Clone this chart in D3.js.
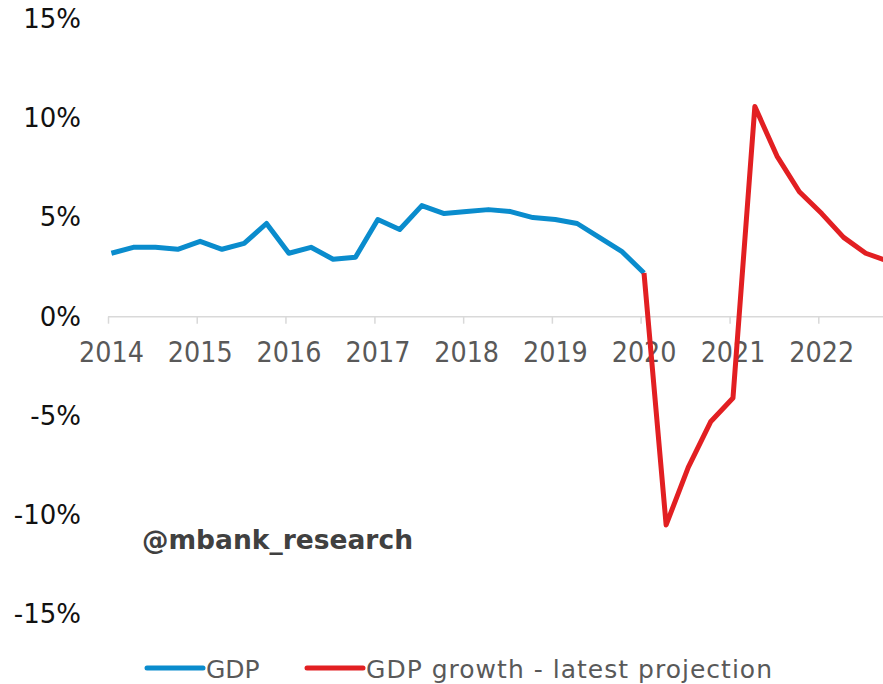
<!DOCTYPE html>
<html>
<head>
<meta charset="utf-8">
<script src="https://cdn.jsdelivr.net/npm/d3@7"></script>
<style>
  html, body { margin: 0; padding: 0; background: #fff; }
  svg { display: block; font-family: "DejaVu Sans", Verdana, sans-serif; }
</style>
</head>
<body>
<svg id="chart" width="883" height="684"></svg>
<script>
// Quarterly GDP growth (y/y, %), 2014 Q1 – 2020 Q1
const gdpQuarters = [
  "2014Q1","2014Q2","2014Q3","2014Q4",
  "2015Q1","2015Q2","2015Q3","2015Q4",
  "2016Q1","2016Q2","2016Q3","2016Q4",
  "2017Q1","2017Q2","2017Q3","2017Q4",
  "2018Q1","2018Q2","2018Q3","2018Q4",
  "2019Q1","2019Q2","2019Q3","2019Q4",
  "2020Q1"
];
const gdpValues = [
  3.2, 3.5, 3.5, 3.4,
  3.8, 3.4, 3.7, 4.7,
  3.2, 3.5, 2.9, 3.0,
  4.9, 4.4, 5.6, 5.2,
  5.3, 5.4, 5.3, 5.0,
  4.9, 4.7, 4.0, 3.3,
  2.2
];

// Latest projection, 2020 Q1 – 2022 Q4
const projQuarters = [
  "2020Q1","2020Q2","2020Q3","2020Q4",
  "2021Q1","2021Q2","2021Q3","2021Q4",
  "2022Q1","2022Q2","2022Q3","2022Q4"
];
const projValues = [
  2.2, -10.5, -7.6, -5.3,
  -4.1, 10.6, 8.1, 6.3,
  5.2, 4.0, 3.2, 2.8
];

const yearTicks = [2014, 2015, 2016, 2017, 2018, 2019, 2020, 2021, 2022];
const yTicks = [-15, -10, -5, 0, 5, 10, 15];

const seriesNames = ["GDP", "GDP growth - latest projection"];
const seriesColors = ["#0a8ccd", "#e21f22"];
const watermark = "@mbank_research";

const svg = d3.select("#chart");

// Each quarter is plotted at the middle of its first month
function quarterDate(q) {
  const year = +q.slice(0, 4);
  const qn = +q.slice(5);
  return new Date(year, (qn - 1) * 3, 15);
}

const x = d3.scaleTime()
  .domain([new Date(2014, 0, 1), new Date(2022, 0, 1)])
  .range([108, 818.3]);

const y = d3.scaleLinear()
  .domain([-15, 15])
  .range([316.7 + 15 * 19.83, 316.7 - 15 * 19.83]);

// Y axis labels
const yAxis = d3.axisLeft(y)
  .tickValues(yTicks)
  .tickSize(0)
  .tickPadding(0)
  .tickFormat(d => d + "%");

svg.append("g")
  .attr("transform", "translate(81,0)")
  .call(yAxis)
  .call(g => g.select(".domain").remove())
  .call(g => g.selectAll("text")
    .attr("fill", "#111")
    .attr("font-size", 26)
    .attr("font-family", "DejaVu Sans, Verdana, sans-serif"));

// Zero line with year ticks
const xAxis = d3.axisBottom(x)
  .tickValues(yearTicks.map(yr => new Date(yr, 0, 1)))
  .tickSize(7)
  .tickFormat(d3.timeFormat("%Y"));

const gx = svg.append("g")
  .attr("transform", `translate(0,${y(0)})`)
  .call(xAxis);

gx.select(".domain").remove();
gx.insert("line", ":first-child")
  .attr("x1", x(new Date(2014, 0, 1)))
  .attr("x2", 883)
  .attr("stroke", "#d9d9d9")
  .attr("stroke-width", 1.5);
gx.selectAll(".tick line")
  .attr("stroke", "#d9d9d9")
  .attr("stroke-width", 1.5);
gx.selectAll(".tick text")
  .attr("fill", "#595959")
  .attr("font-size", 25.5)
  .attr("y", 0)
  .attr("dy", 0)
  .attr("transform", "translate(3,45) scale(1,1.12)")
  .attr("font-family", "DejaVu Sans, Verdana, sans-serif");

// Series lines
const line = d3.line()
  .x(d => x(quarterDate(d.q)))
  .y(d => y(d.v));

const gdpData = gdpQuarters.map((q, i) => ({ q, v: gdpValues[i] }));
const projData = projQuarters.map((q, i) => ({ q, v: projValues[i] }));

svg.append("path")
  .datum(gdpData)
  .attr("d", line)
  .attr("fill", "none")
  .attr("stroke", seriesColors[0])
  .attr("stroke-width", 5)
  .attr("stroke-linejoin", "round");

svg.append("path")
  .datum(projData)
  .attr("d", line)
  .attr("fill", "none")
  .attr("stroke", seriesColors[1])
  .attr("stroke-width", 5)
  .attr("stroke-linejoin", "round");

// Watermark
svg.append("text")
  .attr("x", 142)
  .attr("y", 549)
  .attr("font-size", 26.5)
  .attr("font-weight", "bold")
  .attr("fill", "#404040")
  .text(watermark);

// Legend
const legendItems = [
  { name: seriesNames[0], color: seriesColors[0], x0: 147, len: null },
  { name: seriesNames[1], color: seriesColors[1], x0: 307, len: 406 }
];
const legend = svg.append("g");
legendItems.forEach(it => {
  legend.append("line")
    .attr("x1", it.x0).attr("x2", it.x0 + 56)
    .attr("y1", 668).attr("y2", 668)
    .attr("stroke", it.color)
    .attr("stroke-width", 5)
    .attr("stroke-linecap", "round");
  const t = legend.append("text")
    .attr("x", it.x0 + 59)
    .attr("y", 678)
    .attr("font-size", 25)
    .attr("fill", "#595959")
    .text(it.name);
  if (it.len) t.attr("textLength", it.len).attr("lengthAdjust", "spacing");
});
</script>
</body>
</html>
